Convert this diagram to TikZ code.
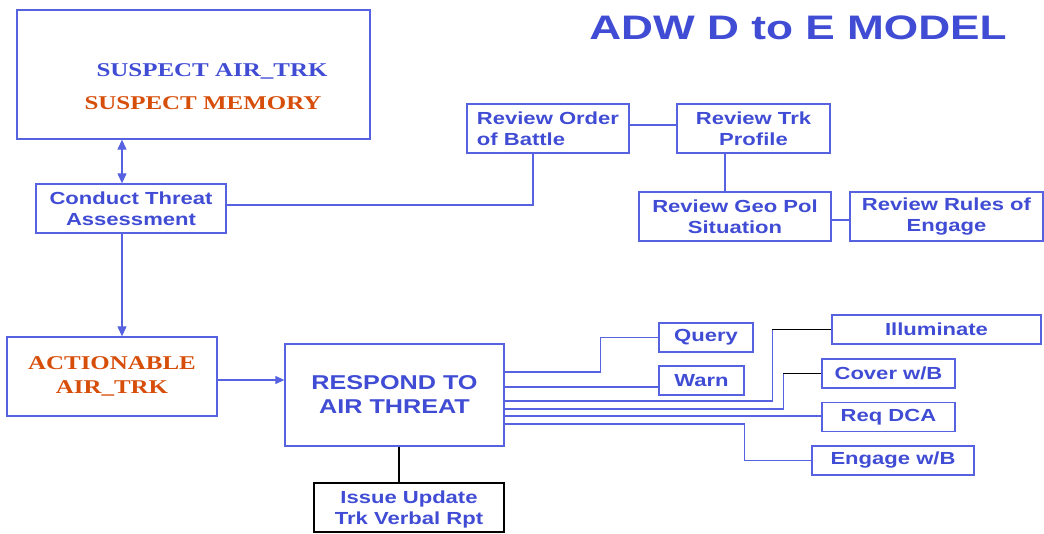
\documentclass[tikz,border=0pt]{standalone}
\usepackage{fontspec}
\newfontfamily\boxfont{Liberation Sans Bold}[FakeStretch=1.26]
\newfontfamily\titlefont{Liberation Sans Bold}[FakeStretch=1.3]
\newfontfamily\capfont{Liberation Serif Bold}[FakeStretch=1.28]
\usetikzlibrary{calc, arrows.meta}
\definecolor{adwblue}{RGB}{64,76,212}
\definecolor{adwline}{RGB}{86,98,224}
\definecolor{adworange}{RGB}{214,78,10}

\begin{document}
\begin{tikzpicture}[x=1pt,y=-1pt,
        box/.style={draw=adwline, line width=1.3pt, rectangle, inner sep=0pt, text=adwblue,
            font=\boxfont\fontsize{17.5}{20.5}\selectfont, align=center},
        captext/.style={font=\capfont\fontsize{19.5}{23.5}\selectfont, align=center},
        link/.style={draw=adwline, line width=1.1pt},
        darklink/.style={draw=black, line width=1.1pt},
        tip/.style={-{Triangle[length=10pt,width=9pt]}}]
    \useasboundingbox (0,0) rectangle (1044,533);
    \node[anchor=base, text=adwblue, font=\titlefont\fontsize{34}{40}\selectfont] (title) at (798,39) {ADW D to E MODEL};

    \node[box, minimum width=353pt, minimum height=129pt] (susp) at (193.5,74.5) {};
    \node[captext, anchor=base, text=adwblue] (susptrk) at (212,76) {SUSPECT AIR\_TRK};
    \node[captext, anchor=base, text=adworange] (suspmem) at (203,109) {SUSPECT MEMORY};

    \node[box, minimum width=190pt, minimum height=49pt] (cta) at (131,208.5) {Conduct Threat\\Assessment};
    \node[box, minimum width=162pt, minimum height=49pt, align=left] (rob) at (548,128.5) {Review Order\\of Battle};
    \node[box, minimum width=153pt, minimum height=49pt] (rtp) at (753.5,128.5) {Review Trk\\Profile};
    \node[box, minimum width=192pt, minimum height=49pt] (geo) at (735,216.5) {Review Geo Pol\\Situation};
    \node[box, minimum width=193pt, minimum height=49pt] (rules) at (946.5,216.5) {Review Rules of\\Engage};

    \node[box, captext, text=adworange, minimum width=210pt, minimum height=79pt] (act) at (112,376.5) {ACTIONABLE\\AIR\_TRK};
    \node[box, minimum width=219pt, minimum height=102pt, font=\boxfont\fontsize{20}{24}\selectfont] (resp) at (394.5,395) {RESPOND TO\\AIR THREAT};
    \node[box, draw=black, minimum width=190pt, minimum height=49pt, text depth=0pt] (issue) at (409,507.5) {Issue Update\\Trk Verbal Rpt};

    \foreach \nm/\cx/\cy/\w/\txt in {query/706/337.5/94/Query, warn/701.5/380.5/85/Warn,
            illum/936.5/329.5/209/Illuminate, cover/888.5/373.5/133/{Cover w/B},
            dca/888.5/417/133/{Req DCA}, engage/893/460.5/162/{Engage w/B}}
        \node[box, minimum width=\w pt, minimum height=29pt] (\nm) at (\cx,\cy) {\txt};

    \draw[link, {Triangle[length=10pt,width=9pt]}-{Triangle[length=10pt,width=9pt]}] (susp.south -| 122,0) -- (cta.north -| 122,0);
    \draw[link, tip] (cta.south -| 122,0) -- (act.north -| 122,0);
    \draw[link, -{Triangle[length=9pt,width=8pt]}] (act.east |- 0,380) -- (resp.west |- 0,380);
    \draw[link] (cta.east |- 0,205) -| ([xshift=-15pt]rob.south);
    \draw[link] (rob.east |- 0,125) -- (rtp.west |- 0,125);
    \draw[link] ([xshift=-28.5pt]rtp.south) -- ([xshift=-28.5pt]rtp.south |- geo.north);
    \draw[link] (geo.east |- 0,220) -- (rules.west |- 0,220);

    \draw[link] (resp.east |- 0,372) -| ([xshift=-58pt]query.west) -- (query.west);
    \draw[link] (resp.east |- 0,387) -- (warn.west |- 0,387);
    \draw[link] (resp.east |- 0,401) -| ([xshift=-59pt]illum.west);
    \draw[darklink] ([xshift=-59pt]illum.west) -- (illum.west);
    \draw[link] (resp.east |- 0,409) -| ([xshift=-38pt]cover.west);
    \draw[darklink] ([xshift=-38pt]cover.west) -- (cover.west);
    \draw[link] (resp.east |- 0,416) -- (dca.west |- 0,416);
    \draw[link] (resp.east |- 0,424) -| ([xshift=-67pt]engage.west) -- (engage.west);
    \draw[darklink] (resp.south -| 399,0) -- (issue.north -| 399,0);
\end{tikzpicture}
\end{document}
